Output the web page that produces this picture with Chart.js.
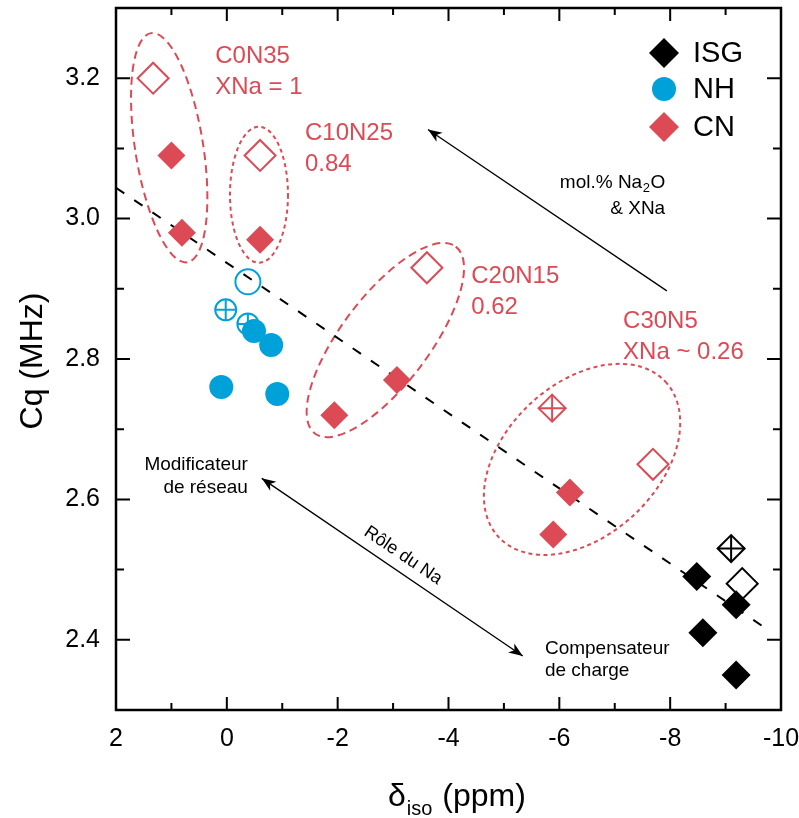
<!DOCTYPE html>
<html>
<head>
<meta charset="utf-8">
<script src="https://cdn.jsdelivr.net/npm/chart.js@4.4.1/dist/chart.umd.min.js"></script>
<style>
    html, body { margin: 0; padding: 0; background: #fff; }
</style>
</head>
<body>
<canvas id="chart1" width="799" height="818"></canvas>
<script>
// Values (x = delta iso in ppm, y = Cq in MHz)
const isgFilledX = [-8.48, -9.19, -8.59, -9.19];
const isgFilledY = [2.49, 2.45, 2.41, 2.35];
const isgOpenX = [-9.30];
const isgOpenY = [2.48];
const isgCrossX = [-9.10];
const isgCrossY = [2.53];

const nhFilledX = [-0.49, -0.80, 0.10, -0.91];
const nhFilledY = [2.84, 2.82, 2.76, 2.75];
const nhOpenX = [-0.38];
const nhOpenY = [2.91];
const nhCrossX = [0.02, -0.38];
const nhCrossY = [2.87, 2.85];

const cnFilledX = [1.00, 0.81, -0.60, -1.94, -3.07, -6.19, -5.89];
const cnFilledY = [3.09, 2.98, 2.97, 2.72, 2.77, 2.61, 2.55];
const cnOpenX = [1.33, -0.60, -3.61, -7.69];
const cnOpenY = [3.20, 3.09, 2.93, 2.65];
const cnCrossX = [-5.87];
const cnCrossY = [2.73];

const trendX = [2, -9.73];
const trendY = [3.044, 2.416];

const xTickValues = [2, 0, -2, -4, -6, -8, -10];
const xMinorValues = [1, -1, -3, -5, -7, -9];
const yTickValues = [2.4, 2.6, 2.8, 3.0, 3.2];
const yMinorValues = [2.5, 2.7, 2.9, 3.1];

const RED = "#db4a55";
const BLUE = "#00a1d9";
const FONT = "'Liberation Sans', Arial, sans-serif";

function pts(xs, ys) {
    return xs.map((x, i) => ({ x: x, y: ys[i] }));
}

// dashed ellipses around the CN groups (centre in data units, radii in px)
const ellipses = [
    { cx: 1.04, cy: 3.101, rx: 116, ry: 34, rot: 81, dash: [8, 5] },
    { cx: -0.58, cy: 3.034, rx: 29, ry: 68, rot: 0, dash: [4, 3.5] },
    { cx: -2.86, cy: 2.827, rx: 117, ry: 44, rot: -53, dash: [8, 5] },
    { cx: -6.41, cy: 2.657, rx: 114, ry: 76, rot: -43, dash: [4, 3.5] }
];

const groupLabels = [
    { x: 0.21, y: 3.231, lines: ["C0N35", "XNa = 1"] },
    { x: -1.41, y: 3.121, lines: ["C10N25", "0.84"] },
    { x: -4.41, y: 2.917, lines: ["C20N15", "0.62"] },
    { x: -7.15, y: 2.853, lines: ["C30N5", "XNa ~ 0.26"] }
];

function drawHead(ctx, x0, y0, x1, y1) {
    const a = Math.atan2(y1 - y0, x1 - x0);
    ctx.save();
    ctx.translate(x1, y1);
    ctx.rotate(a);
    ctx.beginPath();
    ctx.moveTo(0, 0);
    ctx.lineTo(-14, -5.5);
    ctx.lineTo(-10, 0);
    ctx.lineTo(-14, 5.5);
    ctx.closePath();
    ctx.fill();
    ctx.restore();
}

// scales should not push the plot area in for their edge labels
function noPad(s) {
    s.paddingTop = 0;
    s.paddingBottom = 0;
    s.paddingLeft = 0;
    s.paddingRight = 0;
}

const decorations = {
    id: "decorations",
    beforeDatasetsDraw(chart) {
        const { ctx, scales: { x, y } } = chart;
        ctx.save();
        ctx.strokeStyle = RED;
        ctx.lineWidth = 2;
        ellipses.forEach(e => {
            ctx.setLineDash(e.dash);
            ctx.beginPath();
            ctx.ellipse(x.getPixelForValue(e.cx), y.getPixelForValue(e.cy), e.rx, e.ry, e.rot * Math.PI / 180, 0, Math.PI * 2);
            ctx.stroke();
        });
        ctx.restore();
    },
    afterDatasetsDraw(chart) {
        const { ctx, chartArea: a, scales: { x, y } } = chart;
        ctx.save();

        // frame + inward ticks on all four sides
        ctx.strokeStyle = "#000";
        ctx.lineWidth = 2;
        ctx.beginPath();
        const xt = (vals, len) => vals.forEach(v => {
            const p = x.getPixelForValue(v);
            ctx.moveTo(p, a.bottom); ctx.lineTo(p, a.bottom - len);
            ctx.moveTo(p, a.top); ctx.lineTo(p, a.top + len);
        });
        const yt = (vals, len) => vals.forEach(v => {
            const p = y.getPixelForValue(v);
            ctx.moveTo(a.left, p); ctx.lineTo(a.left + len, p);
            ctx.moveTo(a.right, p); ctx.lineTo(a.right - len, p);
        });
        xt(xTickValues, 13); xt(xMinorValues, 7);
        yt(yTickValues, 14); yt(yMinorValues, 8);
        ctx.stroke();
        ctx.lineWidth = 2.5;
        ctx.strokeRect(a.left, a.top, a.right - a.left, a.bottom - a.top);

        // arrows
        ctx.fillStyle = "#000";
        ctx.lineWidth = 1.3;
        const ax0 = x.getPixelForValue(-7.94), ay0 = y.getPixelForValue(2.897);
        const ax1 = x.getPixelForValue(-3.63), ay1 = y.getPixelForValue(3.127);
        ctx.beginPath(); ctx.moveTo(ax0, ay0); ctx.lineTo(ax1, ay1); ctx.stroke();
        drawHead(ctx, ax0, ay0, ax1, ay1);
        const bx0 = x.getPixelForValue(-0.63), by0 = y.getPixelForValue(2.630);
        const bx1 = x.getPixelForValue(-5.34), by1 = y.getPixelForValue(2.377);
        ctx.beginPath(); ctx.moveTo(bx0, by0); ctx.lineTo(bx1, by1); ctx.stroke();
        drawHead(ctx, bx0, by0, bx1, by1);
        drawHead(ctx, bx1, by1, bx0, by0);

        // group labels
        ctx.fillStyle = RED;
        ctx.font = "24px " + FONT;
        ctx.textAlign = "left";
        ctx.textBaseline = "middle";
        groupLabels.forEach(g => {
            const gx = x.getPixelForValue(g.x), gy = y.getPixelForValue(g.y);
            g.lines.forEach((t, i) => ctx.fillText(t, gx, gy + i * 31));
        });

        // black notes
        ctx.fillStyle = "#000";
        ctx.font = "19px " + FONT;
        ctx.textAlign = "right";
        let nx = x.getPixelForValue(-7.91), ny = y.getPixelForValue(3.051);
        const wO = ctx.measureText("O").width;
        ctx.fillText("O", nx, ny);
        ctx.font = "13px " + FONT;
        const w2 = ctx.measureText("2").width;
        ctx.fillText("2", nx - wO - 0.5, ny + 6);
        ctx.font = "19px " + FONT;
        ctx.fillText("mol.% Na", nx - wO - w2 - 1, ny);
        ctx.fillText("& XNa", nx, ny + 26);

        const mx = x.getPixelForValue(-0.38), my = y.getPixelForValue(2.649);
        ctx.fillText("Modificateur", mx, my);
        ctx.fillText("de réseau", mx, my + 23);

        ctx.textAlign = "left";
        const cx = x.getPixelForValue(-5.74), cy = y.getPixelForValue(2.387);
        ctx.fillText("Compensateur", cx, cy);
        ctx.fillText("de charge", cx, cy + 22);

        ctx.save();
        ctx.translate(x.getPixelForValue(-3.18), y.getPixelForValue(2.52));
        ctx.rotate(34 * Math.PI / 180);
        ctx.textAlign = "center";
        ctx.font = "18px " + FONT;
        ctx.fillText("Rôle du Na", 0, 0);
        ctx.restore();

        // legend
        const lx = a.right - 117;
        const legendRows = [
            { text: "ISG", style: "rectRot", r: 15, color: "#000", dy: 45 },
            { text: "NH", style: "circle", r: 12, color: BLUE, dy: 81 },
            { text: "CN", style: "rectRot", r: 15, color: RED, dy: 119 }
        ];
        ctx.font = "29px " + FONT;
        ctx.textAlign = "left";
        legendRows.forEach(row => {
            ctx.fillStyle = row.color;
            ctx.strokeStyle = row.color;
            Chart.helpers.drawPoint(ctx, { pointStyle: row.style, radius: row.r, rotation: 0, borderWidth: 0 }, lx, a.top + row.dy);
            ctx.fillStyle = "#000";
            ctx.fillText(row.text, lx + 29, a.top + row.dy + 1);
        });

        // axis titles
        ctx.fillStyle = "#000";
        ctx.font = "32px " + FONT;
        ctx.textBaseline = "alphabetic";
        const tx = 388, tb = 806;
        ctx.fillText("δ", tx, tb);
        const wd = ctx.measureText("δ").width;
        ctx.font = "20px " + FONT;
        ctx.fillText("iso", tx + wd + 1, tb + 9);
        const wi = ctx.measureText("iso").width;
        ctx.font = "32px " + FONT;
        ctx.fillText(" (ppm)", tx + wd + wi + 2, tb);

        ctx.save();
        ctx.translate(33, (a.top + a.bottom) / 2 + 2);
        ctx.rotate(-Math.PI / 2);
        ctx.textAlign = "center";
        ctx.textBaseline = "middle";
        ctx.fillText("Cq (MHz)", 0, 0);
        ctx.restore();

        ctx.restore();
    }
};

const openStyle = (color, r) => ({
    pointStyle: "rectRot", pointRadius: r, backgroundColor: "rgba(0,0,0,0)",
    borderColor: color, borderWidth: 2
});

const chartData = {
    datasets: [
        { label: "ISG", data: pts(isgFilledX, isgFilledY), pointStyle: "rectRot", pointRadius: 14.5, backgroundColor: "#000", borderColor: "#000", borderWidth: 0 },
        { label: "NH", data: pts(nhFilledX, nhFilledY), pointStyle: "circle", pointRadius: 12, backgroundColor: BLUE, borderColor: BLUE, borderWidth: 0 },
        { label: "CN", data: pts(cnFilledX, cnFilledY), pointStyle: "rectRot", pointRadius: 14, backgroundColor: RED, borderColor: RED, borderWidth: 0 },
        Object.assign({ label: "ISG open", data: pts(isgOpenX, isgOpenY) }, openStyle("#000", 15.5)),
        Object.assign({ label: "ISG crossed", data: pts(isgCrossX, isgCrossY) }, openStyle("#000", 13.5)),
        { label: "ISG cross", data: pts(isgCrossX, isgCrossY), pointStyle: "cross", pointRadius: 13.5, borderColor: "#000", borderWidth: 2 },
        { label: "NH open", data: pts(nhOpenX, nhOpenY), pointStyle: "circle", pointRadius: 12.5, backgroundColor: "rgba(0,0,0,0)", borderColor: BLUE, borderWidth: 2 },
        { label: "NH crossed", data: pts(nhCrossX, nhCrossY), pointStyle: "circle", pointRadius: 10.5, backgroundColor: "rgba(0,0,0,0)", borderColor: BLUE, borderWidth: 2 },
        { label: "NH cross", data: pts(nhCrossX, nhCrossY), pointStyle: "cross", pointRadius: 10.5, borderColor: BLUE, borderWidth: 2 },
        Object.assign({ label: "CN open", data: pts(cnOpenX, cnOpenY) }, openStyle(RED, 15.5)),
        Object.assign({ label: "CN crossed", data: pts(cnCrossX, cnCrossY) }, openStyle(RED, 13.5)),
        { label: "CN cross", data: pts(cnCrossX, cnCrossY), pointStyle: "cross", pointRadius: 13.5, borderColor: RED, borderWidth: 2 },
        { label: "trend", type: "line", data: pts(trendX, trendY), showLine: true, borderColor: "#000", borderWidth: 2, borderDash: [10, 12], pointRadius: 0, fill: false }
    ]
};

const chartConfig = {
    type: "scatter",
    data: chartData,
    options: {
        responsive: false,
        animation: false,
        events: [],
        layout: { autoPadding: false, padding: { left: 0, top: 8, right: 18, bottom: 0 } },
        plugins: {
            legend: { display: false },
            tooltip: { enabled: false }
        },
        scales: {
            x: {
                type: "linear",
                min: -10,
                max: 2,
                reverse: true,
                grid: { display: false, drawTicks: false },
                border: { display: false },
                afterBuildTicks: (s) => { s.ticks = xTickValues.map(v => ({ value: v })); },
                afterFit: (s) => { s.height = 108; noPad(s); },
                ticks: {
                    font: { family: FONT, size: 25 },
                    color: "#000",
                    padding: 14,
                    maxRotation: 0,
                    autoSkip: false,
                    callback: (v) => String(v)
                }
            },
            y: {
                type: "linear",
                min: 2.3,
                max: 3.3,
                grid: { display: false, drawTicks: false },
                border: { display: false },
                afterBuildTicks: (s) => { s.ticks = yTickValues.map(v => ({ value: v })); },
                afterFit: (s) => { s.width = 116; noPad(s); },
                ticks: {
                    font: { family: FONT, size: 25 },
                    color: "#000",
                    padding: 16,
                    autoSkip: false,
                    callback: (v) => v.toFixed(1)
                }
            }
        }
    },
    plugins: [decorations]
};

new Chart(document.getElementById("chart1"), chartConfig);
</script>
</body>
</html>
